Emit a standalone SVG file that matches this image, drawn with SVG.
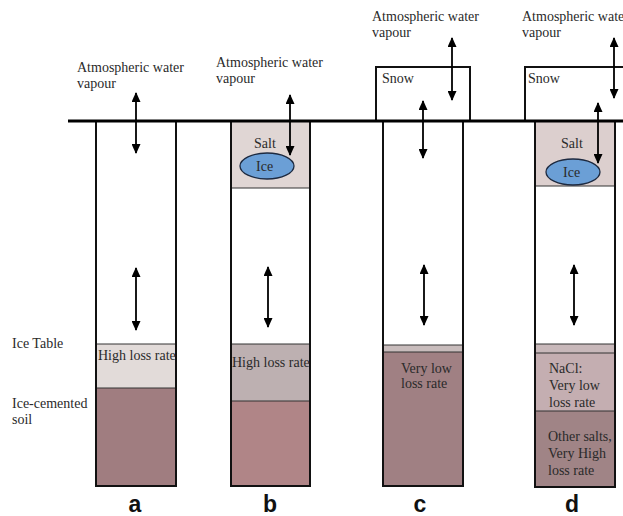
<svg xmlns="http://www.w3.org/2000/svg" width="623" height="516" viewBox="0 0 623 516">
<defs>
<marker id="ah" viewBox="0 0 10 10" refX="9" refY="5" markerWidth="10" markerHeight="9" orient="auto-start-reverse" markerUnits="userSpaceOnUse" preserveAspectRatio="none">
<path d="M0,0 L10,5 L0,10 z" fill="#000"/>
</marker>
<style>
text{font-family:"Liberation Serif","Times New Roman",serif;font-size:14px;fill:#2a2a2a}
.lab{font-family:"Liberation Sans",Arial,sans-serif;font-weight:bold;font-size:23px;fill:#111}
.col{fill:none;stroke:#111;stroke-width:2}
.arr{stroke:#000;stroke-width:1.8;fill:none;marker-start:url(#ah);marker-end:url(#ah)}
.ice{fill:#6b9fd6;stroke:#1d2a40;stroke-width:1.3}
</style>
</defs>
<rect width="623" height="516" fill="#fff"/>
<g id="snow">
<rect x="376" y="67" width="94" height="54" fill="#fff" stroke="#111" stroke-width="2"/>
<path d="M525,121 V67 H630" fill="#fff" stroke="#111" stroke-width="2"/>
</g>
<g id="col-a">
<rect x="96" y="344" width="80" height="44" fill="#e2dbd9"/>
<rect x="96" y="388" width="80" height="98" fill="#a07d80"/>
<line x1="96" y1="344" x2="176" y2="344" stroke="#333" stroke-width="1"/>
<line x1="96" y1="388" x2="176" y2="388" stroke="#333" stroke-width="1"/>
<path class="col" d="M96,121 V486 H176 V121"/>
<text x="98" y="360">High loss rate</text>
</g>
<g id="col-b">
<rect x="231" y="121" width="79" height="67" fill="#e0d6d4"/>
<line x1="231" y1="188" x2="310" y2="188" stroke="#333" stroke-width="1"/>
<ellipse class="ice" cx="267" cy="166" rx="27" ry="13"/>
<text x="254" y="148">Salt</text>
<text x="256" y="171">Ice</text>
<rect x="231" y="344" width="79" height="57" fill="#bdb0b1"/>
<rect x="231" y="401" width="79" height="85" fill="#b08587"/>
<line x1="231" y1="344" x2="310" y2="344" stroke="#333" stroke-width="1"/>
<line x1="231" y1="401" x2="310" y2="401" stroke="#333" stroke-width="1"/>
<path class="col" d="M231,121 V486 H310 V121"/>
<text x="232" y="367">High loss rate</text>
</g>
<g id="col-c">
<rect x="383" y="345" width="80" height="7" fill="#c8bcbc"/>
<rect x="383" y="352" width="80" height="134" fill="#a08083"/>
<line x1="383" y1="345" x2="463" y2="345" stroke="#333" stroke-width="1"/>
<line x1="383" y1="352" x2="463" y2="352" stroke="#333" stroke-width="1"/>
<path class="col" d="M383,121 V486 H463 V121"/>
<text x="401" y="373">Very low</text>
<text x="401" y="388">loss rate</text>
<text x="382" y="83">Snow</text>
</g>
<g id="col-d">
<rect x="535" y="121" width="80" height="65" fill="#dccfce"/>
<line x1="535" y1="186" x2="615" y2="186" stroke="#333" stroke-width="1"/>
<ellipse class="ice" cx="573" cy="172" rx="27" ry="13"/>
<text x="561" y="148">Salt</text>
<text x="563" y="177">Ice</text>
<rect x="535" y="344" width="80" height="9" fill="#c8b8ba"/>
<rect x="535" y="353" width="80" height="58" fill="#c4aeb1"/>
<rect x="535" y="411" width="80" height="76" fill="#a08486"/>
<line x1="535" y1="344" x2="615" y2="344" stroke="#333" stroke-width="1"/>
<line x1="535" y1="353" x2="615" y2="353" stroke="#333" stroke-width="1"/>
<line x1="535" y1="411" x2="615" y2="411" stroke="#333" stroke-width="1"/>
<path class="col" d="M535,121 V487 H615 V121"/>
<text x="549" y="373">NaCl:</text>
<text x="549" y="390">Very low</text>
<text x="549" y="407">loss rate</text>
<text x="548" y="441">Other salts,</text>
<text x="548" y="458">Very High</text>
<text x="548" y="475">loss rate</text>
<text x="528" y="83">Snow</text>
</g>
<line x1="68" y1="121" x2="623" y2="121" stroke="#000" stroke-width="3"/>
<g id="connectors">
<line class="arr" x1="136" y1="93" x2="136" y2="153"/>
<line class="arr" x1="136" y1="268" x2="136" y2="330"/>
<line class="arr" x1="290" y1="95" x2="290" y2="155"/>
<line class="arr" x1="268" y1="267" x2="268" y2="327"/>
<line class="arr" x1="452" y1="38" x2="452" y2="100"/>
<line class="arr" x1="423" y1="101" x2="423" y2="158"/>
<line class="arr" x1="424" y1="265" x2="424" y2="325"/>
<line class="arr" x1="614" y1="38" x2="614" y2="98"/>
<line class="arr" x1="598" y1="103" x2="598" y2="163"/>
<line class="arr" x1="574" y1="265" x2="574" y2="325"/>
</g>
<g id="labels">
<text x="77" y="72">Atmospheric water</text>
<text x="77" y="88">vapour</text>
<text x="216" y="67">Atmospheric water</text>
<text x="216" y="83">vapour</text>
<text x="372" y="21">Atmospheric water</text>
<text x="372" y="37">vapour</text>
<text x="522" y="21">Atmospheric water</text>
<text x="522" y="37">vapour</text>
<text x="12" y="348">Ice Table</text>
<text x="12" y="408">Ice-cemented</text>
<text x="12" y="424">soil</text>
<text class="lab" x="135" y="512" text-anchor="middle">a</text>
<text class="lab" x="270" y="512" text-anchor="middle">b</text>
<text class="lab" x="420" y="512" text-anchor="middle">c</text>
<text class="lab" x="572" y="512" text-anchor="middle">d</text>
</g>
</svg>
